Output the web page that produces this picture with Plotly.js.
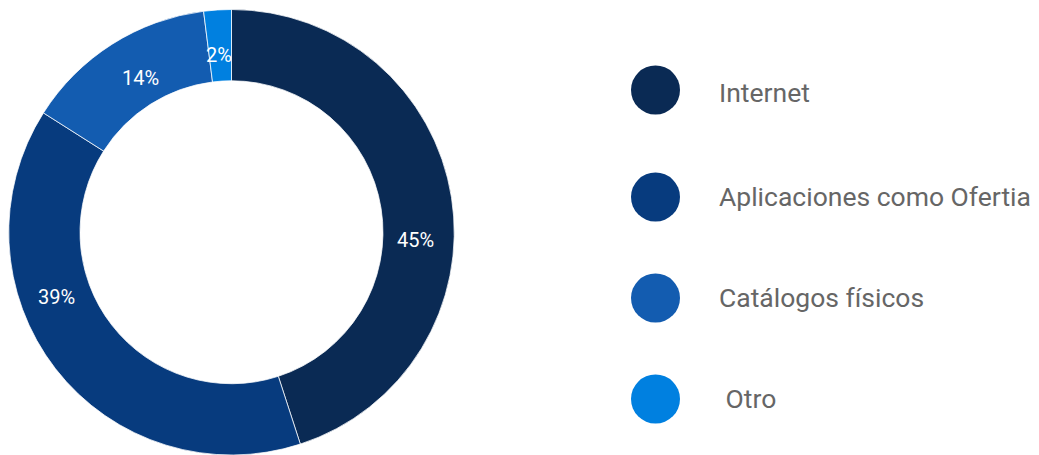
<!DOCTYPE html>
<html>
<head>
<meta charset="utf-8">
<script src="https://cdn.plot.ly/plotly-3.0.1.min.js"></script>
<style>html,body{margin:0;padding:0;background:#fff;}#chart{width:1039px;height:455px;}</style>
</head>
<body>
<div id="chart"></div>
<script>
// ---- data ----
const categories = ['Internet', 'Aplicaciones como Ofertia', 'Catálogos físicos', 'Otro'];
const legendLabels = ['Internet', 'Aplicaciones como Ofertia', 'Catálogos físicos', ' Otro'];
const values = [45, 39, 14, 2];
const colors = ['#0a2a54', '#073b7e', '#135cb0', '#0080e0'];

// ---- layout / placement (not data) ----
const W = 1039, H = 455;
const pieDomX = [8 / W, 455 / W];
const pieDomY = [0, 1 - 9.5 / H];
const labelAngleNudge = [11.4, 17.4, 1.7, -0.5];   // degrees, label placement tweak
const labelRadius = [184, 187, 179, 178];           // px from pie centre
const legendMarkerX = 655.5, legendTextX = 719;
const legendMarkerY = [90, 197, 298, 399];
const legendTextY = [95, 199, 300, 401];

// pie centre in pixels
const cx = (pieDomX[0] + pieDomX[1]) / 2 * W;
const pieH = (pieDomY[1] - pieDomY[0]) * H;
const cy = H - (pieDomY[0] * H + pieH / 2);

const total = values.reduce((a, b) => a + b, 0);
let cum = 0;
const sliceAnnotations = values.map((v, i) => {
  const mid = (cum + v / 2) / total * 360 + labelAngleNudge[i];
  cum += v;
  const rad = mid * Math.PI / 180;
  return {
    xref: 'x', yref: 'y',
    x: cx + labelRadius[i] * Math.sin(rad),
    y: cy - labelRadius[i] * Math.cos(rad),
    text: Math.round(v / total * 100) + '%',
    showarrow: false,
    xanchor: 'center', yanchor: 'middle',
    font: { family: 'Roboto, sans-serif', size: 20, color: '#ffffff' }
  };
});

const pie = {
  type: 'pie',
  labels: categories,
  values: values,
  sort: false,
  direction: 'clockwise',
  rotation: 0,
  hole: 0.68,
  marker: { colors: colors, line: { color: 'rgba(255,255,255,0.75)', width: 1 } },
  textinfo: 'none',
  domain: { x: pieDomX, y: pieDomY },
  showlegend: false,
  hoverinfo: 'label+percent'
};

const legendMarkers = {
  type: 'scatter',
  mode: 'markers',
  x: categories.map(() => legendMarkerX),
  y: legendMarkerY,
  xaxis: 'x', yaxis: 'y',
  marker: { size: 49, color: colors, line: { width: 0 } },
  showlegend: false,
  hoverinfo: 'skip'
};

const legendText = {
  type: 'scatter',
  mode: 'text',
  x: categories.map(() => legendTextX),
  y: legendTextY,
  xaxis: 'x', yaxis: 'y',
  text: legendLabels,
  textposition: 'middle right',
  textfont: { family: 'Roboto, sans-serif', size: 26.5, color: '#666666' },
  showlegend: false,
  hoverinfo: 'skip'
};

const layout = {
  width: W, height: H,
  margin: { l: 0, r: 0, t: 0, b: 0 },
  paper_bgcolor: '#ffffff',
  plot_bgcolor: 'rgba(0,0,0,0)',
  xaxis: { range: [0, W], domain: [0, 1], visible: false, fixedrange: true },
  yaxis: { range: [H, 0], domain: [0, 1], visible: false, fixedrange: true },
  annotations: sliceAnnotations,
  showlegend: false
};

Plotly.newPlot('chart', [pie, legendMarkers, legendText], layout, { displayModeBar: false, staticPlot: true });
</script>
</body>
</html>
